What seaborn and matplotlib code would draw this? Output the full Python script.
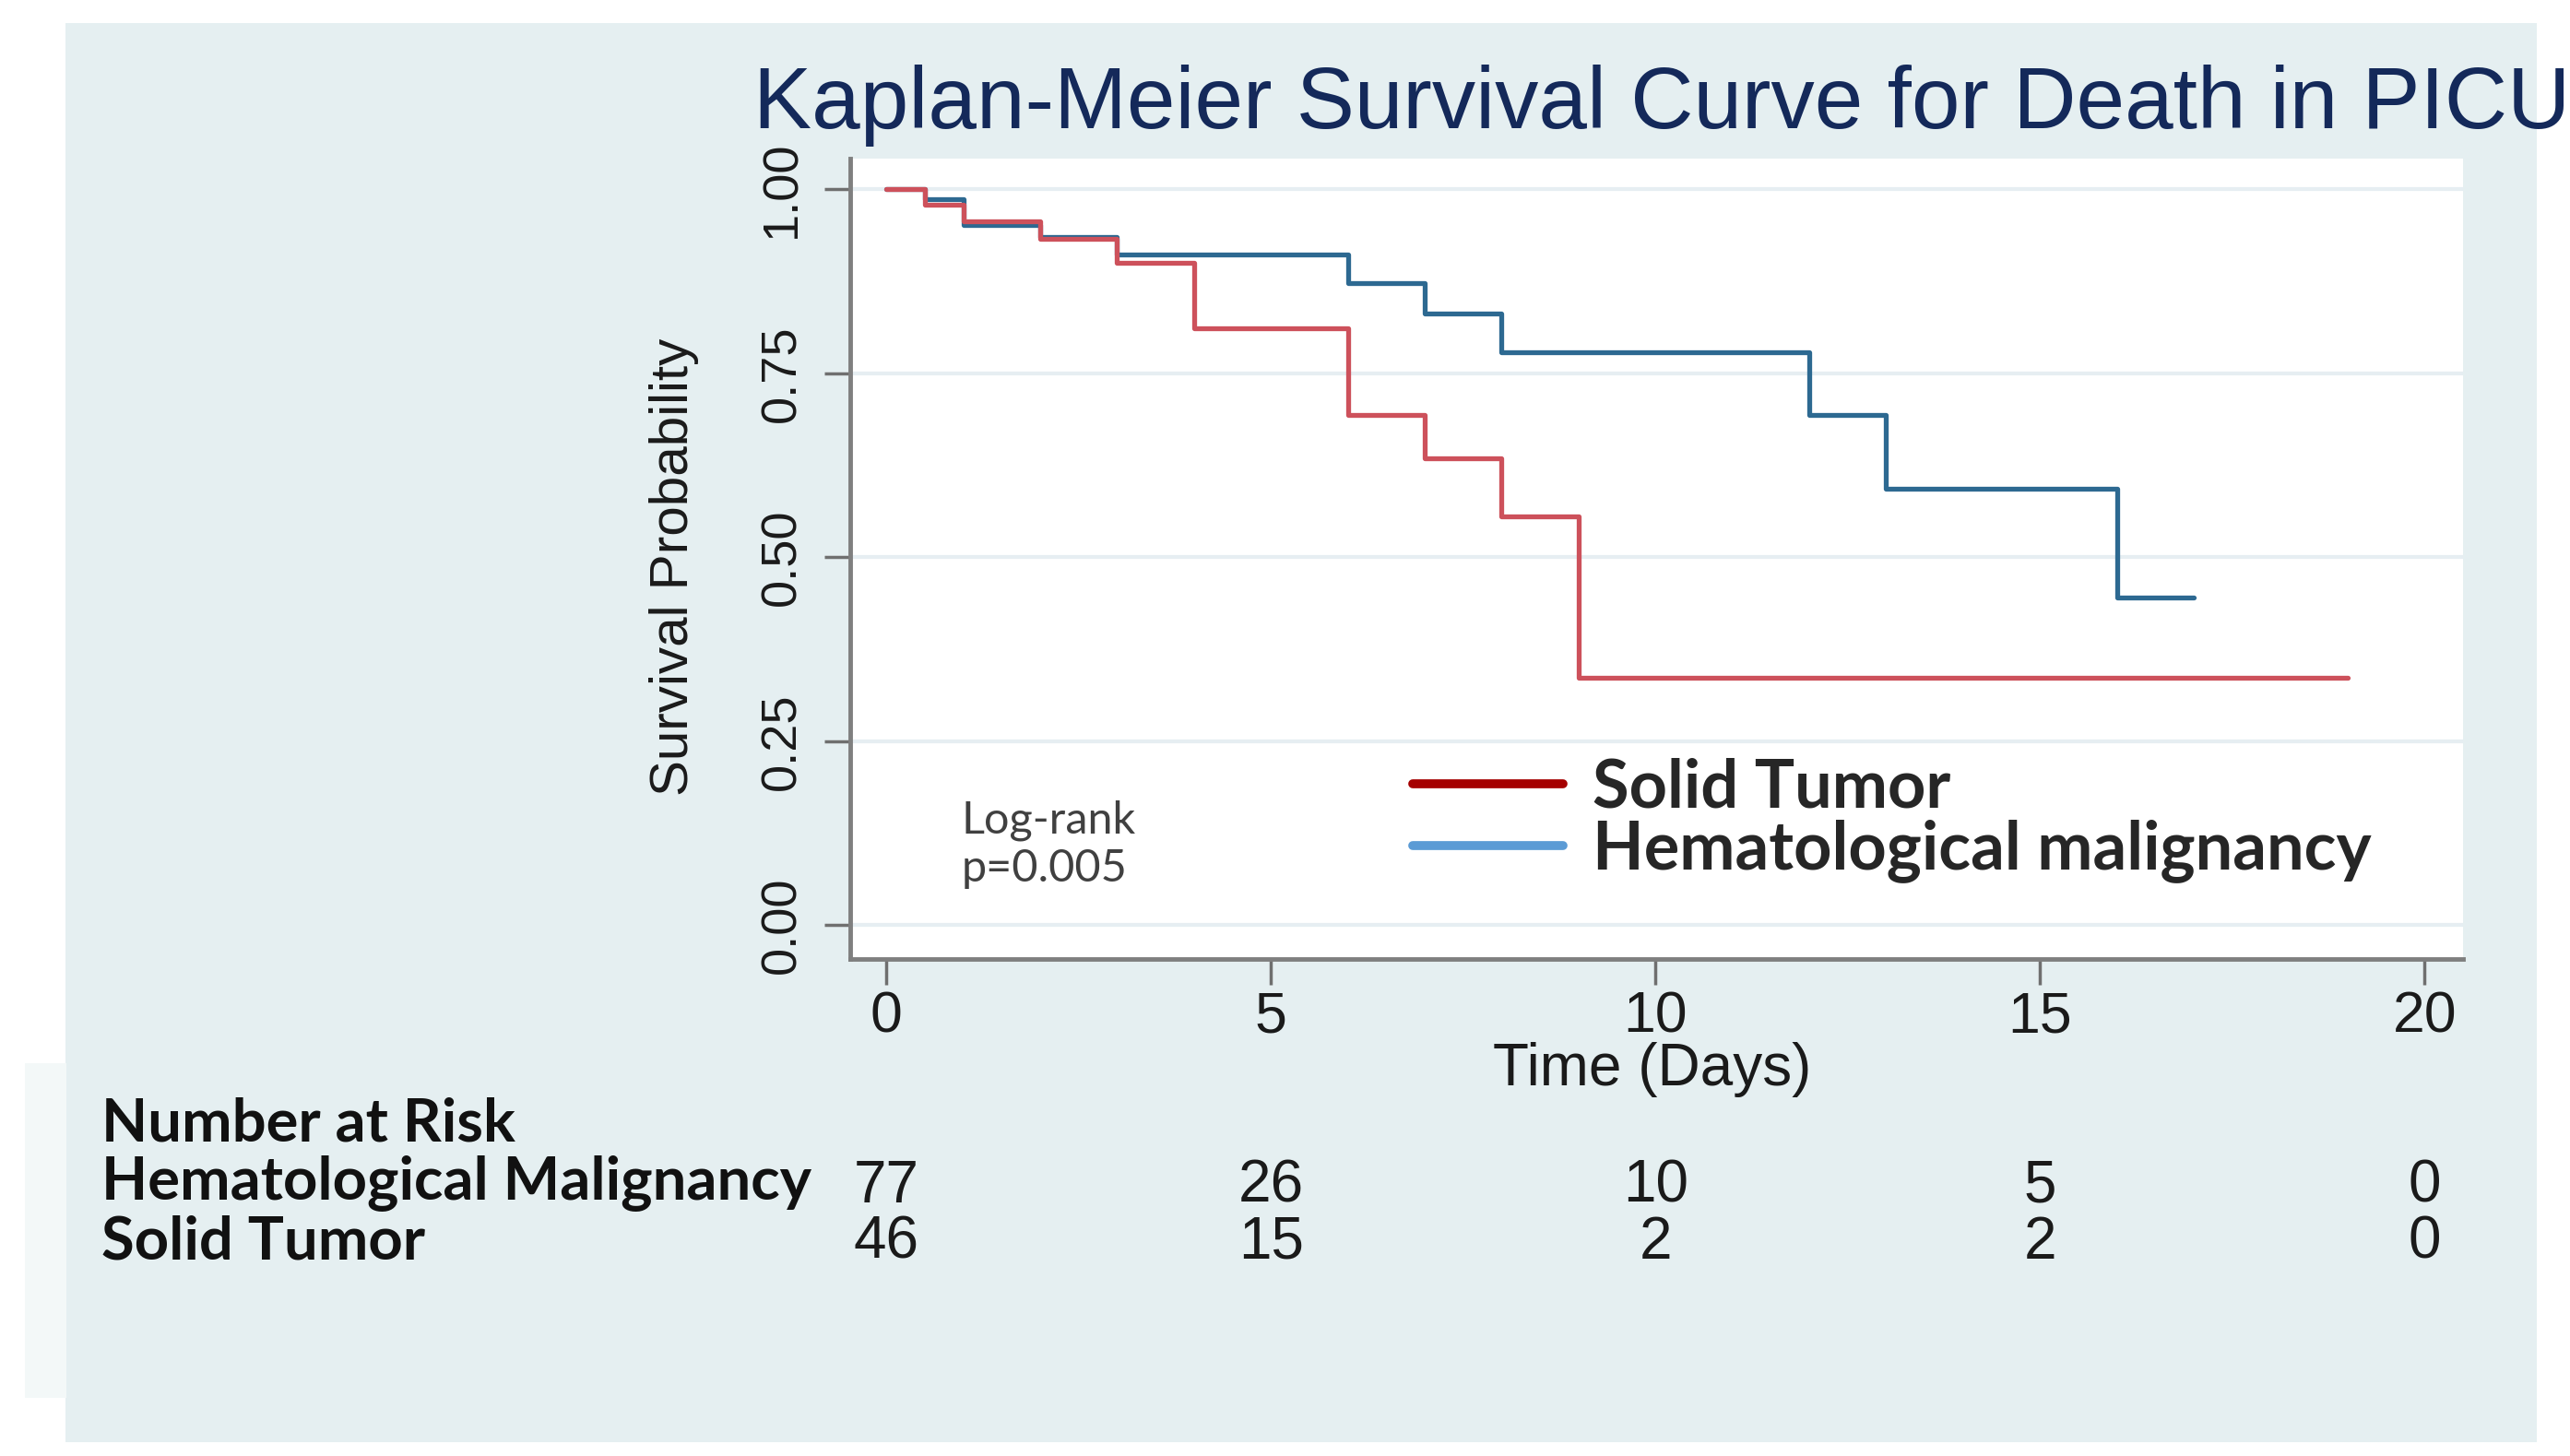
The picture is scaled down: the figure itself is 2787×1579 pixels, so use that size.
import matplotlib
matplotlib.use('Agg')
import matplotlib.pyplot as plt
import pandas as pd
import seaborn as sns
from matplotlib.lines import Line2D
from matplotlib.patches import Rectangle
from matplotlib.transforms import blended_transform_factory

# Kaplan-Meier steps (time in days, survival probability)
heme_time = [0, 0.5, 1, 2, 3, 6, 7, 8, 12, 13, 16, 17]
heme_surv = [1.0, 0.987, 0.952, 0.935, 0.911, 0.873, 0.831, 0.779, 0.694, 0.593, 0.445, 0.445]
solid_time = [0, 0.5, 1, 2, 3, 4, 6, 7, 8, 9, 19]
solid_surv = [1.0, 0.979, 0.957, 0.933, 0.900, 0.811, 0.694, 0.635, 0.556, 0.336, 0.336]

# number at risk table
risk_times = [0, 5, 10, 15, 20]
risk_heme = [77, 26, 10, 5, 0]
risk_solid = [46, 15, 2, 2, 0]

x_ticks = [0, 5, 10, 15, 20]
y_ticks = [0.0, 0.25, 0.5, 0.75, 1.0]

groups = ['Hematological malignancy', 'Solid Tumor']
curve_colors = ['#2d6991', '#cd515b']
legend_colors = ['#5b9bd5', '#a50000']

df = pd.concat([
    pd.DataFrame({'time': heme_time, 'surv': heme_surv, 'group': groups[0]}),
    pd.DataFrame({'time': solid_time, 'surv': solid_surv, 'group': groups[1]}),
], ignore_index=True)

sns.set_theme(style='white')
plt.rcParams['font.family'] = ['Liberation Sans', 'DejaVu Sans']

fig = plt.figure(figsize=(27.87, 15.79), dpi=100)
fig.patch.set_facecolor('white')
# light Stata-like graph region (behind the axes)
fig.patches.append(Rectangle((0.0255, 0.0095), 0.9616, 0.9747, transform=fig.transFigure,
                             facecolor='#e5eff1', edgecolor='none', zorder=-10))
# faint pasted strip at the lower left edge
fig.patches.append(Rectangle((0.0097, 0.040), 0.016, 0.23, transform=fig.transFigure,
                             facecolor='#f3f8f8', edgecolor='none', zorder=-9))

ax = fig.add_axes([0.3308, 0.3414, 0.6276, 0.5497])
ax.set_facecolor('white')

sns.lineplot(data=df, x='time', y='surv', hue='group', hue_order=groups,
             palette=curve_colors, drawstyle='steps-post', estimator=None,
             lw=3.8, legend=False, ax=ax)

ax.set_xlim(-0.47, 20.5)
ax.set_ylim(-0.046, 1.042)
ax.set_xticks(x_ticks)
ax.set_yticks(y_ticks)
ax.set_yticklabels([f'{v:.2f}' for v in y_ticks], rotation=90, va='center')

for s in ['top', 'right']:
    ax.spines[s].set_visible(False)
for s in ['left', 'bottom']:
    ax.spines[s].set_color('#7f7f7f')
    ax.spines[s].set_linewidth(3.5)

ax.tick_params(axis='both', length=20, width=2.5, color='#6f6f6f', labelcolor='#1a1a1a')
ax.tick_params(axis='x', labelsize=45, pad=4)
ax.tick_params(axis='y', labelsize=39, pad=15)
ax.tick_params(axis='both', which='both', bottom=True, left=True)
ax.grid(axis='y', color='#e6eef2', lw=3)
ax.grid(axis='x', visible=False)
ax.set_axisbelow(True)

ax.set_xlabel('Time (Days)', fontsize=46, color='#1a1a1a')
ax.xaxis.set_label_coords(0.497, -0.104)
ax.set_ylabel('Survival Probability', fontsize=42, color='#1a1a1a')
ax.yaxis.set_label_coords(-0.0935, 0.49)

# title
fig.text(0.293, 0.912, 'Kaplan-Meier Survival Curve for Death in PICU',
         fontsize=68, color='#14295a', va='baseline', ha='left')

# legend
handles = [Line2D([0], [0], color=legend_colors[1], lw=7),
           Line2D([0], [0], color=legend_colors[0], lw=7)]
ax.legend(handles, ['Solid Tumor', 'Hematological malignancy'], loc='upper left',
          bbox_to_anchor=(0.349, 0.252), frameon=False,
          prop={'family': 'Lato', 'weight': 'bold', 'size': 52},
          handlelength=2.25, handletextpad=0.45, labelspacing=0.0,
          borderpad=0, borderaxespad=0)

# log-rank note
ax.text(0.069, 0.173, 'Log-rank', transform=ax.transAxes, family='Lato',
        fontsize=35, color='#404040', va='center', ha='left')
ax.text(0.069, 0.113, 'p=0.005', transform=ax.transAxes, family='Lato',
        fontsize=35, color='#404040', va='center', ha='left')

# number at risk table
fig.text(0.0395, 0.2278, 'Number at Risk', family='Lato', weight='bold',
         fontsize=47, va='center', color='#111111')
fig.text(0.0395, 0.1872, 'Hematological Malignancy', family='Lato', weight='bold',
         fontsize=47, va='center', color='#111111')
fig.text(0.0395, 0.1467, 'Solid Tumor', family='Lato', weight='bold',
         fontsize=47, va='center', color='#111111')

trans = blended_transform_factory(ax.transData, fig.transFigure)
for t, n in zip(risk_times, risk_heme):
    ax.text(t, 0.185, str(n), transform=trans, ha='center', va='center',
            fontsize=46, color='#1a1a1a', clip_on=False)
for t, n in zip(risk_times, risk_solid):
    ax.text(t, 0.1465, str(n), transform=trans, ha='center', va='center',
            fontsize=46, color='#1a1a1a', clip_on=False)

fig.savefig('out.png', dpi=100)
